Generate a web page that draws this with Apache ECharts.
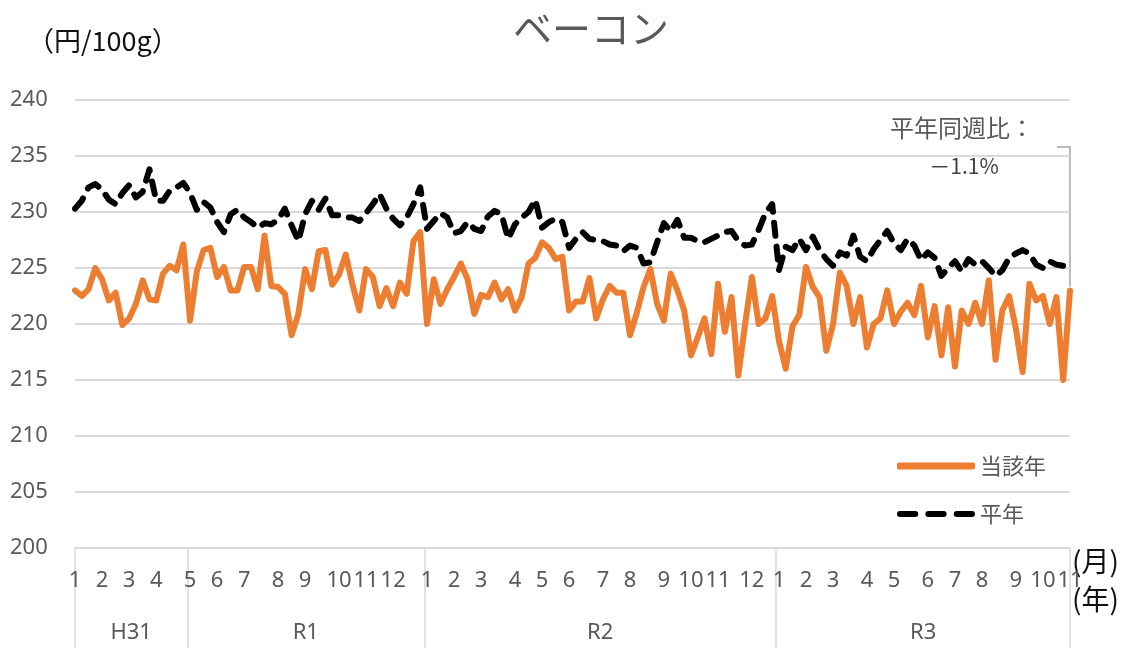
<!DOCTYPE html>
<html>
<head>
<meta charset="utf-8">
<script src="https://cdn.jsdelivr.net/npm/echarts@6/dist/echarts.min.js"></script>
<style>
  html, body { margin: 0; padding: 0; background: #fff; }
  #chart { width: 1139px; height: 648px; }
</style>
</head>
<body>
<div id="chart"></div>
<script>
// weeks in each month, Jan 2019 .. first week of Nov 2021
const weeksInMonth = [4,4,4,5, 4,4,5,4,5,4,4,5,
                      4,4,5,4,4,5,4,5,4,4,5,4,
                      4,4,5,4,5,4,4,5,4,4,1]
const eraNames = ['H31', 'R1', 'R2', 'R3']
const eraStart = [0, 17, 52, 104]

const current = [
  223.0, 222.5, 223.1, 225.0, 224.0, 222.1, 222.8, 219.9, 220.5, 221.8,
  223.9, 222.2, 222.1, 224.5, 225.2, 224.8, 227.1, 220.3, 224.7, 226.6,
  226.8, 224.2, 225.1, 223.0, 223.0, 225.1, 225.1, 223.1, 227.9, 223.4,
  223.3, 222.7, 219.0, 220.9, 224.9, 223.1, 226.5, 226.6, 223.5, 224.4,
  226.2, 223.5, 221.2, 224.9, 224.2, 221.6, 223.2, 221.6, 223.7, 222.7,
  227.4, 228.2, 220.0, 224.0, 221.8, 223.1, 224.2, 225.4, 224.0, 220.9,
  222.6, 222.4, 223.7, 222.2, 223.1, 221.2, 222.4, 225.4, 225.9, 227.3,
  226.8, 225.8, 226.0, 221.2, 222.0, 222.0, 224.1, 220.5, 222.2, 223.4,
  222.8, 222.8, 219.0, 221.0, 223.3, 224.9, 221.8, 220.3, 224.5, 223.0,
  221.2, 217.2, 218.8, 220.5, 217.3, 223.6, 219.3, 222.4, 215.4, 220.0,
  224.2, 220.0, 220.5, 222.5, 218.5, 216.0, 219.8, 220.8, 225.1, 223.3,
  222.4, 217.6, 220.0, 224.6, 223.4, 220.0, 222.4, 217.9, 220.0, 220.5,
  223.0, 220.0, 221.1, 221.9, 220.8, 223.4, 218.8, 221.6, 217.2, 221.5,
  216.2, 221.2, 220.0, 221.9, 220.0, 223.9, 216.8, 221.2, 222.5, 219.6,
  215.7, 223.6, 222.1, 222.5, 220.0, 222.4, 215.0, 223.0
]

const normal = [
  230.3, 231.0, 232.2, 232.5, 232.0, 231.1, 230.7, 231.7, 232.4, 231.3,
  231.8, 233.8, 231.0, 231.0, 231.9, 232.2, 232.6, 231.7, 230.2, 230.9,
  230.4, 229.1, 228.2, 229.8, 230.2, 229.5, 229.1, 228.6, 229.0, 228.9,
  229.3, 230.3, 228.8, 227.4, 229.8, 231.0, 230.2, 231.2, 229.7, 229.7,
  229.5, 229.5, 229.2, 229.9, 230.7, 231.6, 230.3, 229.4, 228.8, 229.5,
  230.7, 232.2, 228.5, 229.2, 229.9, 229.5, 228.1, 228.3, 229.1, 228.5,
  228.3, 229.6, 230.1, 229.8, 227.6, 228.9, 229.5, 230.0, 231.1, 228.6,
  229.1, 229.4, 229.1, 226.8, 227.6, 228.2, 227.6, 227.5, 227.4, 227.1,
  227.0, 226.5, 227.0, 226.8, 225.4, 225.5, 227.3, 229.0, 228.3, 229.3,
  227.7, 227.7, 227.4, 227.3, 227.6, 227.9, 228.2, 228.3, 227.4, 227.0,
  227.1, 228.4, 229.9, 230.7, 224.8, 226.9, 226.6, 227.6, 226.6, 227.8,
  226.6, 225.8, 225.2, 226.4, 226.1, 227.9, 226.0, 225.6, 226.7, 227.5,
  228.3, 227.2, 226.6, 227.6, 227.0, 225.7, 226.4, 225.9, 224.3, 225.0,
  225.6, 224.7, 225.8, 225.3, 225.6, 225.0, 224.3, 224.8, 225.9, 226.3,
  226.6, 226.3, 225.3, 225.0, 225.6, 225.3, 225.2, 225.6
]

// category labels: month number on the first week of each month
const categories = []
weeksInMonth.forEach((n, k) => {
  for (let w = 0; w < n; w++) categories.push(w === 0 ? String(k % 12 + 1) : '')
})
const lastIdx = categories.length - 1
// era separators sit between the last week of one era and the first of the next
const eraBounds = [0].concat(eraStart.slice(1).map(s => s - 0.4), [lastIdx])
const eraMid = eraNames.map((n, k) => (eraBounds[k] + eraBounds[k + 1]) / 2)

const gray = '#595959'
const latin = "'Noto Sans', 'Noto Sans CJK JP', sans-serif"
const cjk = "'Noto Sans CJK JP', sans-serif"

const myChart = echarts.init(document.getElementById('chart'))

const option = {
  animation: false,
  title: [
    {
      text: 'ベーコン',
      left: 508,
      top: 4,
      textStyle: { fontFamily: cjk, fontSize: 39, fontWeight: 'normal', color: gray }
    },
    {
      text: '（円/100g）',
      left: 22,
      top: 22,
      textStyle: { fontFamily: cjk, fontSize: 27, fontWeight: 'normal', color: '#111' }
    }
  ],
  legend: {
    orient: 'vertical',
    left: 892,
    top: 450,
    itemWidth: 78,
    itemHeight: 7,
    itemGap: 26,
    textStyle: { fontFamily: cjk, fontSize: 22, color: gray },
    data: [
      { name: '当該年', icon: 'roundRect', itemStyle: { color: '#ED7D31' } },
      {
        name: '平年',
        icon: 'path://M3,0h15a3,3 0 0 1 0,6h-15a3,3 0 0 1 0,-6z M31,0h15a3,3 0 0 1 0,6h-15a3,3 0 0 1 0,-6z M59,0h15a3,3 0 0 1 0,6h-15a3,3 0 0 1 0,-6z',
        itemStyle: { color: '#000' }
      }
    ]
  },
  grid: { left: 75, right: 69, top: 100, bottom: 100 },
  xAxis: [
    {
      type: 'category',
      boundaryGap: false,
      data: categories,
      axisLine: { lineStyle: { color: '#d9d9d9', width: 1.5 } },
      axisTick: { show: false },
      axisLabel: {
        interval: 0,
        margin: 22,
        fontFamily: latin,
        fontSize: 22,
        color: gray
      }
    },
    {
      type: 'value',
      position: 'bottom',
      min: 0,
      max: lastIdx,
      axisLine: { show: false },
      splitLine: { show: false },
      axisTick: {
        show: true,
        customValues: eraBounds,
        length: 100,
        lineStyle: { color: '#d9d9d9', width: 1.5 }
      },
      axisLabel: {
        customValues: eraMid,
        margin: 74,
        fontFamily: latin,
        fontSize: 22,
        color: gray,
        formatter: v => eraNames[eraMid.indexOf(v)] || ''
      }
    }
  ],
  yAxis: {
    type: 'value',
    min: 200,
    max: 240,
    interval: 5,
    axisLine: { show: false },
    axisTick: { show: false },
    splitLine: { lineStyle: { color: '#d9d9d9', width: 2 } },
    axisLabel: {
      align: 'left',
      margin: 65,
      fontFamily: latin,
      fontSize: 22,
      color: gray
    }
  },
  series: [
    {
      name: '当該年',
      type: 'line',
      data: current,
      symbol: 'none',
      lineStyle: { color: '#ED7D31', width: 6, join: 'round', cap: 'round' },
      itemStyle: { color: '#ED7D31' }
    },
    {
      name: '平年',
      type: 'line',
      data: normal,
      symbol: 'none',
      lineStyle: { color: '#000', width: 6, type: [13, 11], cap: 'round', join: 'round' },
      itemStyle: { color: '#000' }
    }
  ],
  graphic: [
    {
      type: 'text',
      left: 1072,
      top: 547,
      style: { text: '(月)', fontFamily: cjk, fontSize: 28, fill: '#111' }
    },
    {
      type: 'text',
      left: 1072,
      top: 585,
      style: { text: '(年)', fontFamily: cjk, fontSize: 28, fill: '#111' }
    },
    {
      type: 'text',
      x: 962,
      y: 116,
      style: { text: '平年同週比：', fontFamily: cjk, fontSize: 24, fill: gray, align: 'center' }
    },
    {
      type: 'text',
      x: 964,
      y: 156,
      style: { text: '－1.1%', fontFamily: cjk, fontSize: 21, fill: '#404040', align: 'center' }
    }
  ]
}

myChart.setOption(option)

// leader line from the annotation down to the last point of 当該年
const p = myChart.convertToPixel({ seriesIndex: 0 }, [lastIdx, current[lastIdx]])
myChart.setOption({
  graphic: option.graphic.concat([
    {
      type: 'polyline',
      shape: { points: [[p[0] - 13, 147], [p[0], 147], [p[0], p[1] - 4]] },
      style: { stroke: '#a6a6a6', lineWidth: 1.5, fill: null }
    }
  ])
})
</script>
</body>
</html>
